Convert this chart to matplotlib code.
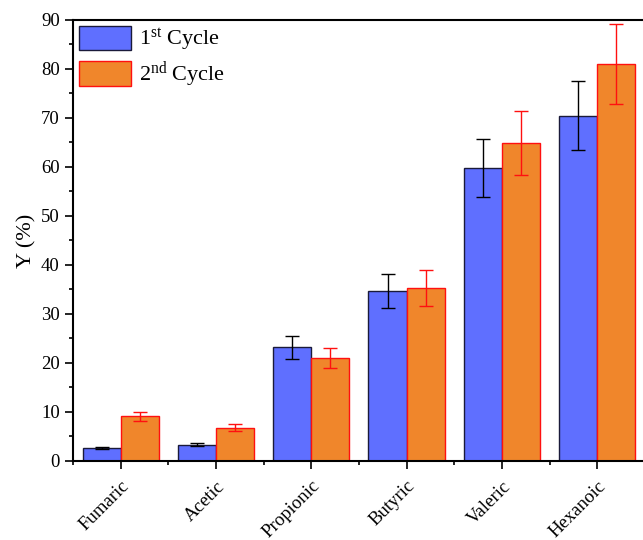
import matplotlib
matplotlib.use("Agg")
import matplotlib.pyplot as plt
import numpy as np
from matplotlib.ticker import MultipleLocator

categories = ["Fumaric", "Acetic", "Propionic", "Butyric", "Valeric", "Hexanoic"]
cycle1 = [2.65, 3.3, 23.2, 34.7, 59.8, 70.5]
cycle1_err = [0.3, 0.3, 2.3, 3.5, 5.9, 7.1]
cycle2 = [9.1, 6.8, 21.0, 35.3, 64.9, 81.0]
cycle2_err = [0.95, 0.7, 2.1, 3.6, 6.6, 8.1]

plt.rcParams['font.family'] = ['Liberation Serif', 'DejaVu Serif']
plt.rcParams['mathtext.fontset'] = 'custom'
plt.rcParams['mathtext.rm'] = 'Liberation Serif'
plt.rcParams['mathtext.it'] = 'Liberation Serif:italic'
plt.rcParams['mathtext.bf'] = 'Liberation Serif:bold'

fig = plt.figure(figsize=(6.43, 5.40), dpi=100)
ax = fig.add_axes([0.1135, 0.1463, 0.8895, 0.8167])

x = np.arange(len(categories))
w = 0.4
ax.bar(x - w/2, cycle1, w, color='#5F6FFF', edgecolor='#1a1a3a', linewidth=1.0,
       yerr=cycle1_err, capsize=5, error_kw=dict(ecolor='black', elinewidth=1.0, capthick=1.0),
       label='1$^{\\mathrm{st}}$ Cycle')
ax.bar(x + w/2, cycle2, w, color='#F0862B', edgecolor='#FF1010', linewidth=1.0,
       yerr=cycle2_err, capsize=5, error_kw=dict(ecolor='#FF1010', elinewidth=1.0, capthick=1.0),
       label='2$^{\\mathrm{nd}}$ Cycle')

ax.set_xlim(-0.5, 5.5)
ax.set_ylim(0, 90)
ax.set_xticks(x)
ax.set_xticklabels(categories, rotation=45, ha='right', rotation_mode='anchor', fontsize=13.5)
ax.set_xticks(np.arange(-0.5, 5.6, 1.0), minor=True)
ax.yaxis.set_major_locator(MultipleLocator(10))
ax.yaxis.set_minor_locator(MultipleLocator(5))
ax.tick_params(axis='both', which='major', direction='out', length=6, width=1.2, labelsize=13.5)
ax.tick_params(axis='x', which='major', labelsize=13.5, pad=6)
ax.tick_params(axis='both', which='minor', direction='out', length=3, width=1.2)
for s in ['left', 'bottom', 'top', 'right']:
    ax.spines[s].set_linewidth(1.5)

ax.set_ylabel('Y (%)', fontsize=16, labelpad=3)

leg = ax.legend(loc='upper left', frameon=False, fontsize=16, handlelength=2.35,
                handleheight=1.3, borderaxespad=0.15, borderpad=0.1,
                labelspacing=0.3, handletextpad=0.35)

fig.savefig('out.png', dpi=100)
